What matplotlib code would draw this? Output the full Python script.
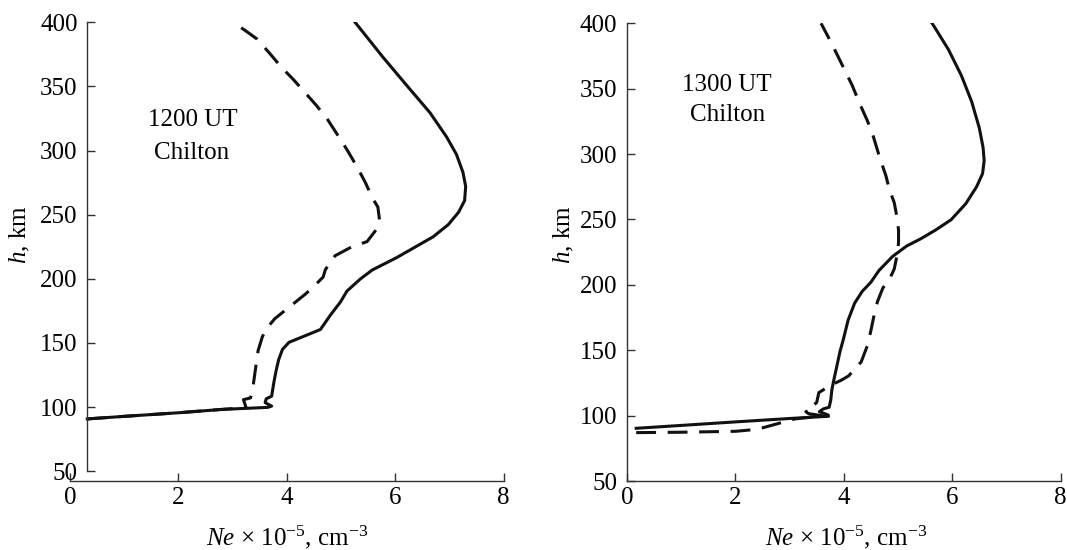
import matplotlib
matplotlib.use("Agg")
import matplotlib.pyplot as plt

plt.rcParams['font.family'] = ['Liberation Serif', 'DejaVu Serif']
plt.rcParams['mathtext.fontset'] = 'custom'
plt.rcParams['mathtext.rm'] = 'Liberation Serif'
plt.rcParams['mathtext.it'] = 'Liberation Serif:italic'
plt.rcParams['font.size'] = 18

# --- 1200 UT, Chilton ---
left_solid_ne = [0.32, 1.0, 2.0, 2.8, 3.65, 3.72, 3.6, 3.62, 3.72, 3.76, 3.8, 3.85, 3.92,
                 4.04, 4.62, 4.8, 4.99, 5.11, 5.36, 5.58, 6.02, 6.36, 6.7, 6.98, 7.17,
                 7.28, 7.3, 7.25, 7.13, 6.95, 6.64, 6.2, 5.77, 5.26]
left_solid_h = [90.8, 92.8, 95.6, 98.2, 99.8, 100.8, 103.5, 106.5, 108.5, 119, 128, 137, 145,
                150.5, 160.5, 171.5, 182, 190.5, 200, 207, 216.4, 224.6, 232.8, 242.3, 252,
                261, 272, 283, 297, 310.5, 329.6, 351.4, 373, 400]

left_dash_ne = [0.32, 1.0, 2.0, 2.8, 3.25, 3.2, 3.33, 3.35, 3.38, 3.42, 3.47, 3.55, 3.64,
                3.78, 4.03, 4.34, 4.52, 4.67, 4.71, 4.8, 4.89, 5.2, 5.48, 5.68, 5.71,
                5.68, 5.58, 5.45, 5.3, 5.12, 4.94, 4.74, 4.55, 4.34, 4.13, 3.9, 3.68,
                3.45, 3.22, 3.0]
left_dash_h = [90.8, 92.8, 95.6, 98.2, 99.5, 105.8, 107.2, 110, 117, 129, 144, 155, 162,
               169, 177.5, 188, 195, 201.4, 207, 213, 218, 225, 229, 240, 246,
               256, 263, 275, 287, 300, 312, 325, 335, 345, 355, 365, 376,
               387, 394, 400]

# --- 1300 UT, Chilton ---
right_solid_ne = [0.17, 1.0, 2.0, 3.0, 3.72, 3.71, 3.55, 3.62, 3.73, 3.76, 3.78, 3.82, 3.87,
                  3.93, 3.99, 4.08, 4.2, 4.34, 4.5, 4.65, 4.9, 5.16, 5.41, 5.69, 5.98,
                  6.25, 6.45, 6.56, 6.59, 6.57, 6.5, 6.36, 6.17, 5.93, 5.63]
right_solid_h = [90.3, 92.5, 95.2, 97.8, 99.5, 100.5, 103, 105.1, 106.4, 112, 119.7, 128, 137.5,
                 149, 158, 173, 186, 195, 202, 211, 221.7, 229.7, 235, 241.8, 249.8,
                 262, 275, 285, 295, 305, 320, 340, 360, 380, 400]

right_dash_ne = [0.17, 1.0, 2.0, 2.4, 2.75, 3.1, 3.62, 3.35, 3.3, 3.4, 3.38, 3.5, 3.54, 3.77,
                 3.95, 4.09, 4.32, 4.44, 4.5, 4.55, 4.62, 4.72, 4.85, 4.93, 4.98, 5.01,
                 5.01, 4.98, 4.93, 4.84, 4.78, 4.65, 4.53, 4.43, 4.31, 4.15, 3.99, 3.83,
                 3.7, 3.58]
right_dash_h = [87.0, 87.3, 88.0, 89.5, 93.5, 97.5, 99.8, 101.5, 103, 104.5, 106, 110, 117.6, 123.5,
                127, 130.4, 141, 154, 165, 175, 187, 197.5, 205, 212, 222, 232,
                242, 252, 263, 273, 283, 299, 315.5, 326, 337, 353, 366.5, 380,
                390.6, 400]

x_ticks = [0, 2, 4, 6, 8]
y_ticks = [50, 100, 150, 200, 250, 300, 350, 400]
x_label = r"$\mathit{Ne}$ × $10^{-5}$, $\mathrm{cm}^{-3}$"
y_label = r"$h$, km"

fig = plt.figure(figsize=(10.67, 5.5), dpi=100)
ax1 = fig.add_axes([0.0656, 0.12545, 0.4064, 0.834])
ax2 = fig.add_axes([0.5876, 0.12545, 0.4064, 0.8322])

line_kw = dict(color='#111111', lw=2.2)

ax1.plot(left_solid_ne, left_solid_h, **line_kw)
ax1.plot(left_dash_ne, left_dash_h, dashes=(6.5, 3.8), **line_kw)
ax2.plot(right_solid_ne, right_solid_h, **line_kw)
ax2.plot(right_dash_ne, right_dash_h, dashes=(6.5, 3.8), **line_kw)

ax1.set_xlim(0, 8)
ax1.set_ylim(42.4, 400)
ax2.set_xlim(0, 8)
ax2.set_ylim(50, 400)

for ax in (ax1, ax2):
    ax.spines['top'].set_visible(False)
    ax.spines['right'].set_visible(False)
    for s in ('left', 'bottom'):
        ax.spines[s].set_linewidth(1.0)
        ax.spines[s].set_color('#333333')
    ax.spines['left'].set_bounds(50, 400)
    ax.spines['bottom'].set_bounds(0, 8)
    ax.set_xticks(x_ticks)
    ax.set_yticks(y_ticks)
    ax.tick_params(direction='in', length=6, width=1.0, color='#333333')
    ax.tick_params(axis='x', pad=4)
    ax.tick_params(axis='y', pad=7)
    ax.set_xlabel(x_label, va='baseline')
    ax.set_ylabel(y_label, va='center')

# left panel has its h-axis drawn a little right of Ne = 0
ax1.spines['left'].set_position(('data', 0.32))

ax1.xaxis.set_label_coords(0.5, -0.1395)
ax2.xaxis.set_label_coords(0.505, -0.1398)
ax1.yaxis.set_label_coords(-0.1165, 0.536)
ax2.yaxis.set_label_coords(-0.146, 0.5375)

ax1.text(2.26, 323.9, "1200 UT", ha='center', va='center')
ax1.text(2.25, 298, "Chilton", ha='center', va='center')
ax2.text(1.84, 352.8, "1300 UT", ha='center', va='center')
ax2.text(1.85, 329.9, "Chilton", ha='center', va='center')

fig.savefig("out.png", dpi=100)
